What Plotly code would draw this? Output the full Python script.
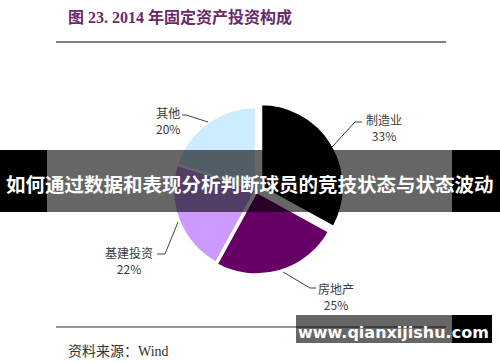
import plotly.graph_objects as go

W, H = 500, 362

# Data
categories = ["制造业", "房地产", "基建投资", "其他"]
values = [33, 25, 22, 20]
pct_labels = ["33%", "25%", "22%", "20%"]
colors = ["#000000", "#660066", "#CC99FF", "#CCECFF"]
pulls = [0.07, 0.02, 0.0, 0.0]

title_text = "图 23. 2014 年固定资产投资构成"
source_text = "资料来源：Wind"
banner_text = "如何通过数据和表现分析判断球员的竞技状态与状态波动"
watermark_text = "www.qianxijishu.com"


def px(x):
    return x / W


def py(y):
    return 1 - y / H


# pie geometry (pixels)
cx, cy, r = 256, 190, 83
half = r * (1 + max(pulls))

fig = go.Figure()
fig.add_trace(go.Pie(
    labels=categories,
    values=values,
    sort=False,
    direction="clockwise",
    rotation=0,
    pull=pulls,
    marker=dict(colors=colors, line=dict(color="white", width=2.5)),
    textinfo="none",
    hoverinfo="label+percent",
    showlegend=False,
    domain=dict(x=[px(cx - half), px(cx + half)], y=[py(cy + half), py(cy - half)]),
))

label_font = dict(family="Noto Sans CJK SC, Noto Sans, sans-serif", size=12, color="#3a3a3a")

# label block centers (pixels)
label_pos = [
    (384, 127),
    (336, 296),
    (129, 260),
    (168, 120),
]
leaders = [
    [(362, 122), (355, 122), (332, 147)],
    [(316, 288), (310, 288), (283, 272)],
    [(157, 254), (165, 254), (178, 222)],
    [(182, 115), (186, 115), (208, 122)],
]

annotations = []
shapes = []
for i, cat in enumerate(categories):
    nx, ny = label_pos[i]
    annotations.append(dict(x=px(nx), y=py(ny), xref="paper", yref="paper",
                            text=cat + "<br>" + pct_labels[i],
                            showarrow=False, font=label_font, xanchor="center", yanchor="middle",
                            align="center"))
    pts = leaders[i]
    path = "M %f,%f" % (px(pts[0][0]), py(pts[0][1]))
    for (x, y) in pts[1:]:
        path += " L %f,%f" % (px(x), py(y))
    shapes.append(dict(type="path", path=path, xref="paper", yref="paper",
                       line=dict(color="#404040", width=1)))

# title and rules
annotations.append(dict(x=px(66), y=py(17), xref="paper", yref="paper", text="<b>" + title_text + "</b>",
                        showarrow=False, xanchor="left", yanchor="middle",
                        font=dict(family="Liberation Serif, Noto Sans CJK SC, serif", size=16, color="#6a2a6a")))
shapes.append(dict(type="line", xref="paper", yref="paper", x0=px(56), x1=px(446), y0=py(42), y1=py(42),
                   line=dict(color="#555555", width=1.5)))
shapes.append(dict(type="line", xref="paper", yref="paper", x0=px(56), x1=px(446), y0=py(327), y1=py(327),
                   line=dict(color="#777777", width=1.5)))
annotations.append(dict(x=px(66), y=py(351), xref="paper", yref="paper", text=source_text,
                        showarrow=False, xanchor="left", yanchor="middle",
                        font=dict(family="Liberation Serif, Noto Sans CJK SC, serif", size=14, color="#333333")))

# banner overlay
shapes += [
    dict(type="rect", xref="paper", yref="paper", x0=0, x1=px(47), y0=py(212), y1=py(150),
         fillcolor="black", line=dict(width=0), layer="above"),
    dict(type="rect", xref="paper", yref="paper", x0=px(452), x1=1, y0=py(212), y1=py(150),
         fillcolor="black", line=dict(width=0), layer="above"),
    dict(type="rect", xref="paper", yref="paper", x0=px(47), x1=px(452), y0=py(212), y1=py(150),
         fillcolor="black", opacity=0.6, line=dict(width=0), layer="above"),
    dict(type="rect", xref="paper", yref="paper", x0=px(296), x1=px(452), y0=py(343), y1=py(315),
         fillcolor="black", opacity=0.6, line=dict(width=0), layer="above"),
    dict(type="rect", xref="paper", yref="paper", x0=px(452), x1=px(492), y0=py(343), y1=py(315),
         fillcolor="black", line=dict(width=0), layer="above"),
]
annotations.append(dict(x=0.5, y=py(183), xref="paper", yref="paper", text="<b>" + banner_text + "</b>",
                        showarrow=False, xanchor="center", yanchor="middle",
                        font=dict(family="Noto Sans CJK SC, sans-serif", size=19.5, color="white")))
annotations.append(dict(x=px(393), y=py(332), xref="paper", yref="paper", text="<b>" + watermark_text + "</b>",
                        showarrow=False, xanchor="center", yanchor="middle",
                        font=dict(family="DejaVu Sans, sans-serif", size=16, color="white")))

fig.update_layout(
    width=W, height=H,
    margin=dict(l=0, r=0, t=0, b=0),
    paper_bgcolor="white", plot_bgcolor="white",
    shapes=shapes, annotations=annotations,
)

fig.write_html("out.html", config={"displayModeBar": False},
               post_script="document.body.style.margin='0';document.body.style.padding='0';")
